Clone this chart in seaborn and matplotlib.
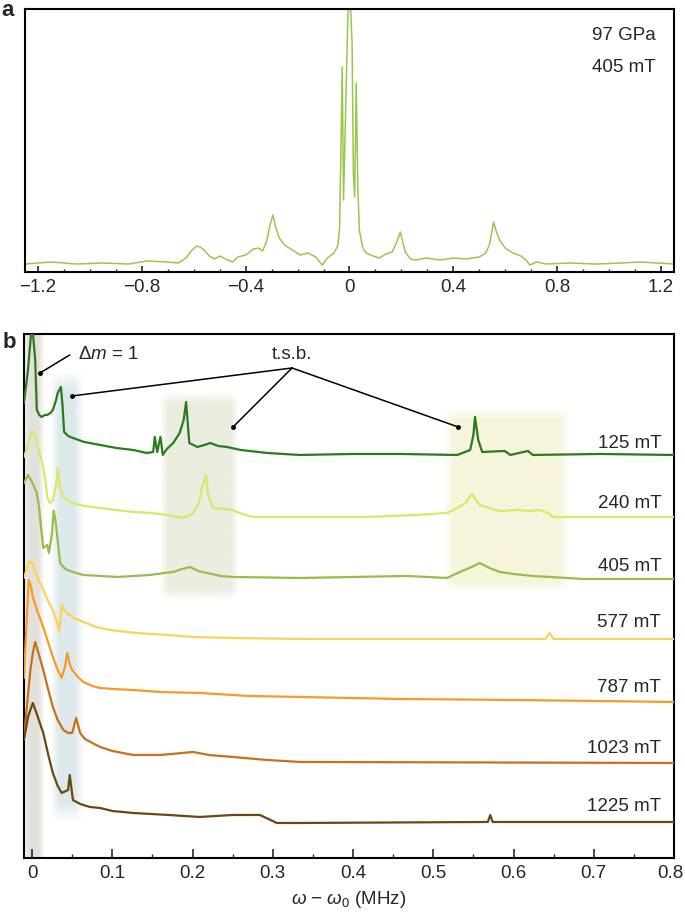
import numpy as np
import pandas as pd
import matplotlib
matplotlib.use("Agg")
import matplotlib.pyplot as plt
import matplotlib.transforms as mtransforms
import seaborn as sns
from matplotlib.ticker import MultipleLocator
from matplotlib.colors import to_rgb

# ---- panel a: 97 GPa, 405 mT spectrum (MHz, arb. units) ----
a_freq = [-1.25, -1.15, -1.05, -0.95, -0.85, -0.78, -0.70, -0.66, -0.63, -0.61,
          -0.59, -0.575, -0.56, -0.54, -0.52, -0.50, -0.47, -0.45, -0.43, -0.40,
          -0.37, -0.35, -0.335, -0.32, -0.305, -0.295, -0.285, -0.27, -0.25, -0.22,
          -0.19, -0.16, -0.13, -0.105, -0.085, -0.06, -0.045, -0.038, -0.032, -0.028,
          -0.023, -0.006, 0.0, 0.005, 0.010, 0.015, 0.020, 0.026, 0.032, 0.038,
          0.05, 0.064, 0.09, 0.115, 0.14, 0.165, 0.185, 0.196, 0.205, 0.215,
          0.235, 0.256, 0.295, 0.35, 0.40, 0.45, 0.50, 0.525, 0.54, 0.555,
          0.565, 0.58, 0.60, 0.63, 0.66, 0.68, 0.695, 0.72, 0.76, 0.85,
          0.95, 1.05, 1.12, 1.25]
a_int = [8, 10, 8, 9, 8, 11, 10, 9, 14, 21,
         26, 25, 22, 16, 13, 16, 12, 10, 15, 17,
         23, 24, 21, 30, 48, 57, 45, 34, 27, 22,
         17, 19, 15, 7, 14, 19, 26, 45, 139, 205,
         72, 259, 275, 259, 229, 99, 75, 189, 85, 42,
         25, 19, 16, 14, 18, 20, 32, 40, 30, 20,
         13, 12, 14, 12, 14, 13, 15, 19, 28, 50,
         41, 31, 24, 19, 16, 12, 7, 10, 8, 9,
         8, 9, 10, 8]

# ---- panel b: spectra at several fields ----
fields = ["125 mT", "240 mT", "405 mT", "577 mT", "787 mT", "1023 mT", "1225 mT"]
colors = ["#2b7a1f", "#d9e86b", "#93bf4a", "#fbd35a", "#fa9a25", "#c8701a", "#6b4712"]
offsets = [403, 341, 279, 219, 156, 95, 36]

f125 = [-0.010, -0.005, -0.001, 0.001, 0.004, 0.006, 0.009, 0.012, 0.016, 0.019,
        0.023, 0.026, 0.030, 0.032, 0.036, 0.038, 0.040, 0.045, 0.051, 0.065,
        0.085, 0.105, 0.126, 0.143, 0.151, 0.153, 0.156, 0.160, 0.163, 0.168,
        0.176, 0.184, 0.189, 0.192, 0.196, 0.206, 0.215, 0.222, 0.232, 0.243,
        0.26, 0.293, 0.334, 0.40, 0.459, 0.530, 0.546, 0.550, 0.552, 0.556,
        0.561, 0.589, 0.596, 0.618, 0.624, 0.708, 0.80]
h125 = [52, 85, 123, 123, 95, 45, 40, 38, 40, 40,
        42, 45, 55, 62, 68, 50, 23, 19, 17, 13,
        10, 7, 5, 2, 3, 18, 3, 18, 0, 6,
        12, 22, 35, 53, 12, 8, 10, 12, 9, 8,
        5, 2, 0, 1, 1, 0, 5, 20, 38, 15,
        3, 4, 0, 4, 0, 1, 0]

f240 = [-0.010, -0.007, -0.003, 0.0, 0.003, 0.006, 0.010, 0.014, 0.017, 0.019,
        0.022, 0.026, 0.029, 0.031, 0.032, 0.035, 0.039, 0.045, 0.051, 0.065,
        0.085, 0.105, 0.126, 0.148, 0.168, 0.188, 0.200, 0.208, 0.212, 0.217,
        0.219, 0.223, 0.226, 0.240, 0.250, 0.262, 0.275, 0.334, 0.417, 0.48,
        0.517, 0.530, 0.540, 0.548, 0.558, 0.570, 0.583, 0.605, 0.620, 0.633,
        0.645, 0.649, 0.80]
h240 = [60, 67, 78, 86, 82, 74, 62, 50, 35, 20,
        14, 17, 28, 37, 49, 30, 20, 16, 14, 11,
        9, 7, 5, 4, 2, -1, 3, 14, 30, 42,
        24, 14, 9, 8, 7, 3, 0, 0, 0, 2,
        4, 9, 14, 23, 12, 9, 6, 7, 6, 7,
        3, 0, 0]

f405 = [-0.010, -0.005, 0.0, 0.006, 0.009, 0.012, 0.014, 0.019, 0.021, 0.025,
        0.027, 0.029, 0.031, 0.035, 0.040, 0.044, 0.055, 0.064, 0.085, 0.106,
        0.147, 0.165, 0.176, 0.187, 0.197, 0.207, 0.218, 0.235, 0.250, 0.334,
        0.467, 0.517, 0.533, 0.545, 0.558, 0.570, 0.583, 0.600, 0.624, 0.687,
        0.80]
h405 = [96, 104, 97, 86, 70, 46, 31, 34, 26, 46,
        68, 60, 46, 16, 11, 9, 6, 4, 3, 2,
        4, 6, 7, 10, 12, 8, 6, 3, 2, 1,
        3, 1, 7, 11, 16, 11, 7, 5, 3, 0,
        0]

f577 = [-0.010, -0.004, 0.0, 0.004, 0.009, 0.014, 0.020, 0.026, 0.031, 0.034,
        0.037, 0.040, 0.044, 0.052, 0.064, 0.080, 0.097, 0.130, 0.168, 0.20,
        0.250, 0.334, 0.64, 0.645, 0.65, 0.80]
h577 = [61, 77, 77, 67, 58, 49, 38, 29, 17, 7,
        34, 29, 26, 21, 17, 12, 9, 6, 4, 2,
        1, 0, 0, 6, 0, 0]

f787 = [-0.010, -0.006, -0.004, -0.001, 0.001, 0.007, 0.014, 0.020, 0.026, 0.032,
        0.037, 0.041, 0.044, 0.047, 0.050, 0.057, 0.064, 0.075, 0.085, 0.100,
        0.126, 0.160, 0.209, 0.27, 0.334, 0.459, 0.60, 0.80]
h787 = [24, 92, 122, 115, 105, 90, 75, 60, 45, 32,
        24, 35, 49, 38, 32, 25, 20, 16, 14, 13,
        12, 10, 9, 6, 5, 3, 2, 0]

f1023 = [-0.010, -0.006, -0.002, 0.001, 0.004, 0.008, 0.014, 0.020, 0.026, 0.032,
         0.039, 0.045, 0.050, 0.055, 0.060, 0.066, 0.075, 0.085, 0.100, 0.126,
         0.160, 0.201, 0.220, 0.250, 0.293, 0.334, 0.80]
h1023 = [25, 60, 93, 110, 121, 110, 93, 74, 56, 43,
         33, 30, 30, 45, 30, 24, 20, 16, 12, 8,
         8, 11, 8, 6, 3, 1, 0]

f1225 = [-0.010, -0.005, 0.001, 0.006, 0.014, 0.020, 0.026, 0.032, 0.037, 0.045,
         0.047, 0.051, 0.060, 0.072, 0.085, 0.100, 0.126, 0.170, 0.209, 0.250,
         0.284, 0.305, 0.334, 0.568, 0.571, 0.574, 0.80]
h1225 = [82, 105, 119, 108, 89, 68, 49, 36, 29, 32,
         47, 22, 18, 15, 14, 11, 9, 7, 5, 7,
         7, -1, -1, 0, 7, 0, 0]

freqs = [f125, f240, f405, f577, f787, f1023, f1225]
heights = [h125, h240, h405, h577, h787, h1023, h1225]
b_ticks = [0, 0.1, 0.2, 0.3, 0.4, 0.5, 0.6, 0.7, 0.8]
b_ticklabels = ["0", "0.1", "0.2", "0.3", "0.4", "0.5", "0.6", "0.7", "0.8"]

sns.set_style("white")
plt.rcParams["font.family"] = ["Liberation Sans", "DejaVu Sans"]
plt.rcParams["mathtext.fontset"] = "custom"
plt.rcParams["mathtext.rm"] = "Liberation Sans"
plt.rcParams["mathtext.it"] = "Liberation Sans:italic"
plt.rcParams["axes.linewidth"] = 1.5
plt.rcParams["axes.edgecolor"] = "black"

fig = plt.figure(figsize=(6.85, 9.14), dpi=100)
ax_a = fig.add_axes([0.0365, 0.7024, 0.9474, 0.2877])
ax_b = fig.add_axes([0.035, 0.0613, 0.949, 0.5733])


def soft_band(ax, x0, x1, y0, y1, color, fx, fy):
    xs = np.linspace(x0, x1, 300)
    ys = np.linspace(y0, y1, 300)
    wx = np.clip(np.minimum(xs - x0, x1 - xs) / fx, 0, 1)
    wy = np.clip(np.minimum(ys - y0, y1 - ys) / fy, 0, 1)
    img = np.zeros((300, 300, 4))
    img[..., :3] = to_rgb(color)
    img[..., 3] = np.outer(wy, wx)
    ax.imshow(img, extent=(x0, x1, y0, y1), origin="lower", aspect="auto",
              zorder=0, interpolation="bilinear")


# panel a
sns.lineplot(x=a_freq, y=a_int, ax=ax_a, color="#9cc54e", lw=1.1, estimator=None)
ax_a.set_xlim(-1.25, 1.25)
ax_a.set_ylim(0, 263)
ax_a.set_yticks([])
ax_a.xaxis.set_major_locator(MultipleLocator(0.4))
ax_a.xaxis.set_minor_locator(MultipleLocator(0.1))
ax_a.xaxis.set_major_formatter(lambda v, p: "0" if abs(v) < 1e-9 else f"{v:.1f}".replace("-", "\u2212"))
ax_a.tick_params(axis="x", which="major", direction="in", length=4.5, width=1.2,
                 labelsize=13.5, pad=5, bottom=True)
ax_a.tick_params(axis="x", which="minor", direction="in", length=2.2, width=1.0, bottom=True)
ax_a.text(1.18, 237, "97 GPa", ha="right", va="center", fontsize=13.5)
ax_a.text(1.18, 205, "405 mT", ha="right", va="center", fontsize=13.5)
ax_a.set_xlabel("")
ax_a.set_ylabel("")

# panel b shaded regions
soft_band(ax_b, -0.012, 0.016, -20, 544, "#e3e1dc", 0.008, 5)
soft_band(ax_b, 0.022, 0.064, 35, 488, "#dde9eb", 0.012, 20)
soft_band(ax_b, 0.160, 0.258, 258, 466, "#ebeddf", 0.010, 12)
soft_band(ax_b, 0.513, 0.668, 265, 451, "#f6f5dc", 0.012, 12)

for fr, hh, off, col in zip(freqs, heights, offsets, colors):
    sns.lineplot(x=fr, y=np.array(hh) + off, ax=ax_b, color=col, lw=1.6,
                 estimator=None, zorder=3)

label_y = [414, 354, 291, 235, 170, 109, 51]
for name, ly in zip(fields, label_y):
    ax_b.text(0.784, ly, name, ha="right", va="center", fontsize=13.5, zorder=4)

# annotations
ax_b.plot([0.010, 0.047], [485, 503], color="black", lw=1.1, zorder=5)
ax_b.plot([0.010], [485], "o", color="black", ms=2.5, zorder=5)
ax_b.text(0.057, 503, r"$\Delta m$ = 1", va="center", fontsize=13.5)
ax_b.text(0.324, 503, "t.s.b.", ha="center", va="center", fontsize=13.5)
for tx, ty in [(0.0498, 462), (0.2505, 431), (0.531, 431)]:
    ax_b.plot([0.324, tx], [490, ty], color="black", lw=1.1, zorder=5)
    ax_b.plot([tx], [ty], "o", color="black", ms=2.5, zorder=5)

ax_b.set_xlim(-0.01, 0.8)
ax_b.set_ylim(0, 524)
ax_b.set_yticks([])
ax_b.set_xticks(b_ticks)
ax_b.set_xticklabels(b_ticklabels)
ax_b.xaxis.set_minor_locator(MultipleLocator(0.05))
ax_b.tick_params(axis="x", which="major", direction="in", length=6.5, width=1.2,
                 labelsize=13.5, pad=5, bottom=True)
ax_b.tick_params(axis="x", which="minor", direction="in", length=3.2, width=1.0, bottom=True)
ax_b.set_xlabel("$\\omega$ \u2212 $\\omega_0$ (MHz)", fontsize=13.5, labelpad=5)
ax_b.set_ylabel("")

# keep the last tick label inside the figure
last = ax_b.xaxis.get_major_ticks()[-1].label1
last.set_transform(last.get_transform() + mtransforms.ScaledTranslation(-4 / 100, 0, fig.dpi_scale_trans))

fig.text(8 / 685, 1 - 10 / 914, "a", fontsize=16, fontweight="bold", ha="center", va="center")
fig.text(9 / 685, 1 - 342 / 914, "b", fontsize=16, fontweight="bold", ha="center", va="center")

fig.savefig("out.png", dpi=100)
